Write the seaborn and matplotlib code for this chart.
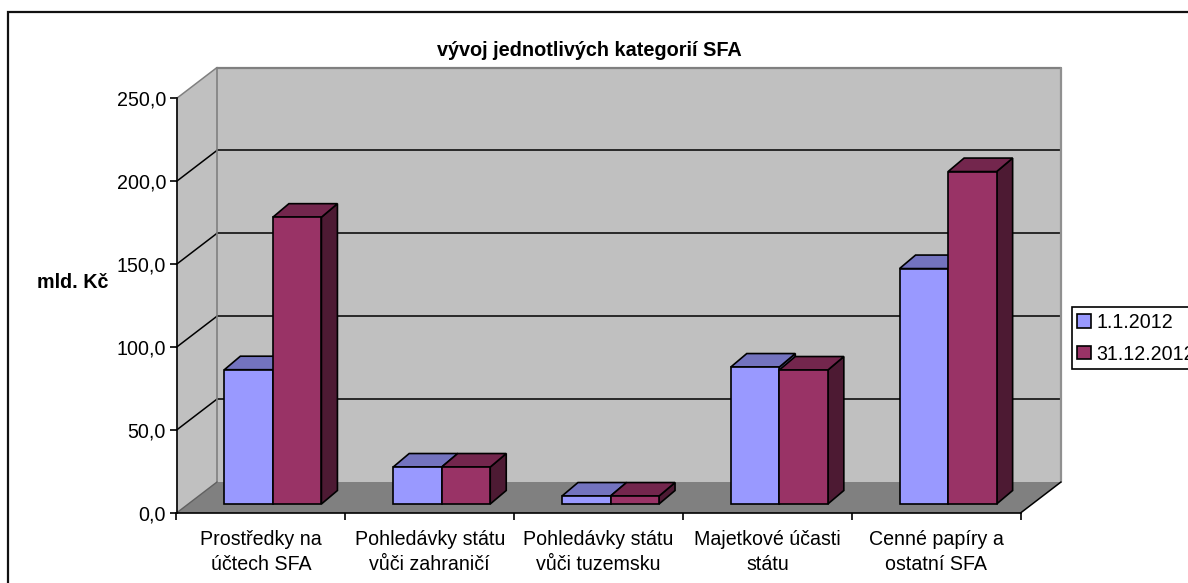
import matplotlib
matplotlib.use("Agg")
import matplotlib.pyplot as plt
import pandas as pd
import seaborn as sns
from matplotlib.lines import Line2D
from matplotlib.patches import Polygon, Rectangle
from matplotlib.transforms import IdentityTransform, ScaledTranslation

categories = ["Prostředky na\núčtech SFA", "Pohledávky státu\nvůči zahraničí",
              "Pohledávky státu\nvůči tuzemsku", "Majetkové účasti\nstátu",
              "Cenné papíry a\nostatní SFA"]
series_names = ["1.1.2012", "31.12.2012"]
values_start = [81.0, 22.3, 4.8, 82.6, 142.0]
values_end = [173.0, 22.3, 4.8, 80.8, 200.5]
y_ticks = [0, 50, 100, 150, 200, 250]
y_labels = ["0,0", "50,0", "100,0", "150,0", "200,0", "250,0"]

W, H = 1188, 583
L, R, B, T = 176.5, 1020.5, 513.0, 98.5     # plot box in image pixels
WALL_DX, WALL_DY = 40.5, 31.0               # depth of the chart box
BAR_DX, BAR_DY = 12.0, 9.0                  # bars stand inside the box
SIDE_DX, SIDE_DY = 16.0, 13.5               # depth of each bar
FS = 14.1
FS_BOLD = 14.2

colors = {"1.1.2012": "#9999FF", "31.12.2012": "#993366"}
tops = {"1.1.2012": "#7373BF", "31.12.2012": "#73264D"}
sides = {"1.1.2012": "#4D4D80", "31.12.2012": "#4D1A33"}

sns.set_theme(style="white")
plt.rcParams["font.family"] = ["Liberation Sans", "DejaVu Sans"]

df = pd.DataFrame({
    "kategorie": categories * 2,
    "serie": [series_names[0]] * 5 + [series_names[1]] * 5,
    "hodnota": values_start + values_end,
})

fig = plt.figure(figsize=(W / 100, H / 100), dpi=100, facecolor="white")
ax = fig.add_axes([L / W, 1 - B / H, (R - L) / W, (B - T) / H])
ax.patch.set_visible(False)

sns.barplot(data=df, x="kategorie", y="hodnota", hue="serie", order=categories,
            hue_order=series_names, palette=colors, saturation=1, width=0.575,
            gap=0, edgecolor="black", linewidth=1.2, errorbar=None, ax=ax)
ax.set_xlim(-0.5, 4.5)
ax.set_ylim(0, 250)

disp = IdentityTransform()


def px(x, y):
    return ax.transData.transform((x, y))


def poly(pts, fc, ec="none", lw=0.0, z=0.5):
    ax.add_patch(Polygon(pts, closed=True, transform=disp, facecolor=fc, edgecolor=ec,
                         linewidth=lw, zorder=z, clip_on=False))


def seg(a, b, color, lw=1.0, z=0.8):
    ax.add_line(Line2D([a[0], b[0]], [a[1], b[1]], transform=disp, color=color, lw=lw,
                       zorder=z, clip_on=False))


def back(p):
    return (p[0] + WALL_DX, p[1] + WALL_DY)


# box: back wall, left wall, floor
bl, br, tl, tr = px(-0.5, 0), px(4.5, 0), px(-0.5, 250), px(4.5, 250)
poly([back(bl), back(br), back(tr), back(tl)], "#C0C0C0", z=0.4)
poly([bl, back(bl), back(tl), tl], "#C0C0C0", z=0.4)
poly([bl, br, back(br), back(bl)], "#808080", z=0.5)
for yt in y_ticks[1:-1]:
    a, b = px(-0.5, yt), px(4.5, yt)
    seg(a, back(a), "black", 1.1)
    seg(back(a), back(b), "black", 1.1)
seg(back(tl), back(tr), "#808080", 1.6)
seg(back(br), back(tr), "#909090", 1.6)
seg(back(bl), back(tl), "#808080", 1.2)
seg(tl, back(tl), "#808080", 1.1)
seg(bl, back(bl), "#606060", 1.0)
seg(br, back(br), "black", 1.1, z=0.9)

# bars: front faces come from seaborn, the 3D faces are derived from them
shift = ScaledTranslation(BAR_DX / 100, BAR_DY / 100, fig.dpi_scale_trans)
for name, container in zip(series_names, ax.containers):
    for bar in container:
        x0, x1 = bar.get_x(), bar.get_x() + bar.get_width()
        h = bar.get_height()
        bar.set_transform(ax.transData + shift)
        bar.set_clip_on(False)
        bar.set_zorder(6)
        b = px(x1, 0) + (BAR_DX, BAR_DY)
        c = px(x1, h) + (BAR_DX, BAR_DY)
        d = px(x0, h) + (BAR_DX, BAR_DY)
        o = (SIDE_DX, SIDE_DY)
        poly([b, b + o, c + o, c], sides[name], "black", 1.2, z=5)
        poly([d, c, c + o, d + o], tops[name], "black", 1.2, z=5)

# axes
sns.despine(ax=ax, top=True, right=True)
for s in ("left", "bottom"):
    ax.spines[s].set_color("black")
    ax.spines[s].set_linewidth(1.2)
ax.set_yticks(y_ticks, y_labels)
ax.set_xticks(range(5), categories)
ax.set_xticks([-0.5, 0.5, 1.5, 2.5, 3.5, 4.5], minor=True)
ax.tick_params(axis="y", length=5, width=1.2, color="black", pad=2.5, labelsize=FS,
               labelcolor="black", left=True)
ax.tick_params(axis="x", which="major", length=0, pad=12.5, labelsize=FS, labelcolor="black")
ax.tick_params(axis="x", which="minor", length=5, width=1.2, color="black", bottom=True)
for label in ax.get_xticklabels():
    label.set_linespacing(1.38)
ax.set_xlabel("")
ax.set_ylabel("mld. Kč", rotation=0, fontsize=FS_BOLD, fontweight="bold", color="black")
ax.yaxis.set_label_coords((72.5 - L) / (R - L), (B - 282) / (B - T), transform=ax.transAxes)
ax.yaxis.label.set_va("center")
ax.yaxis.label.set_ha("center")

fig.text(589.5 / W, 1 - 51 / H, "vývoj jednotlivých kategorií SFA", ha="center", va="center",
         fontsize=FS_BOLD + 0.1, fontweight="bold", color="black")

# legend
handles = [Rectangle((0, 0), 1, 1, facecolor=colors[n], edgecolor="black", linewidth=1.2)
           for n in series_names]
ax.get_legend().remove()
leg = fig.legend(handles, series_names, loc="lower left",
                 bbox_to_anchor=(1071.7 / W, 1 - 369 / H), bbox_transform=fig.transFigure,
                 borderaxespad=0, fontsize=FS, frameon=True, fancybox=False, framealpha=1,
                 edgecolor="black", handlelength=0.68, handleheight=0.68, handletextpad=0.32,
                 labelspacing=0.65, borderpad=0.28, labelcolor="black")
leg.get_frame().set_linewidth(1.2)

# outer chart frame, running off the right and bottom of the image
fig.add_artist(Rectangle((8, H - 12 - 700), 1400, 700, transform=disp, facecolor="none",
                         edgecolor="#111111", linewidth=1.6, clip_on=True))

fig.savefig("out.png", dpi=100, facecolor="white")
